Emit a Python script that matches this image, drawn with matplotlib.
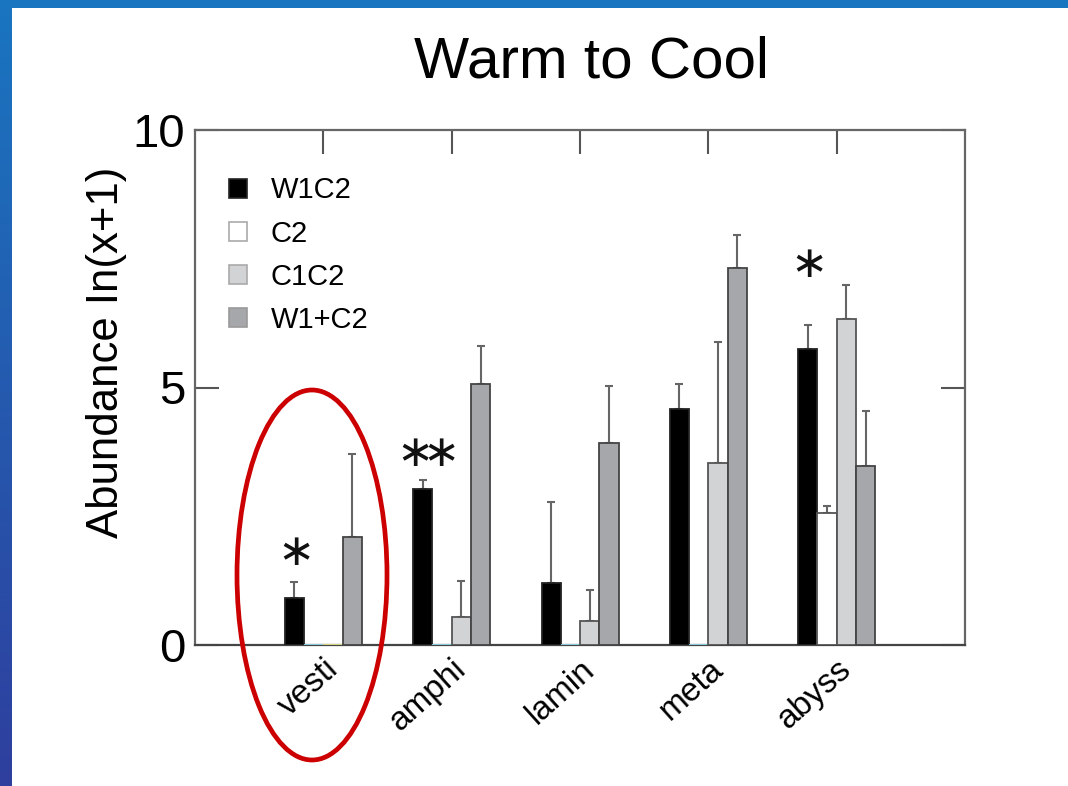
import numpy as np
import matplotlib
matplotlib.use("Agg")
import matplotlib.pyplot as plt
from matplotlib.patches import Patch, Ellipse, Rectangle
from matplotlib.transforms import ScaledTranslation

plt.rcParams['font.family'] = ['Liberation Sans', 'DejaVu Sans']

categories = ["vesti", "amphi", "lamin", "meta", "abyss"]
series = ["W1C2", "C2", "C1C2", "W1+C2"]
w1c2 = [0.92, 3.03, 1.20, 4.58, 5.75]
w1c2_err = [0.31, 0.17, 1.58, 0.48, 0.46]
c2 = [0.0, 0.0, 0.0, 0.0, 2.56]
c2_err = [0.0, 0.0, 0.0, 0.0, 0.14]
c1c2 = [0.0, 0.54, 0.47, 3.54, 6.33]
c1c2_err = [0.0, 0.70, 0.60, 2.34, 0.66]
w1pc2 = [2.09, 5.07, 3.92, 7.33, 3.48]
w1pc2_err = [1.61, 0.74, 1.11, 0.64, 1.06]
stars = ["*", "**", "", "", "*"]
star_y = [1.77, 3.69, 0, 0, 7.36]

values = [w1c2, c2, c1c2, w1pc2]
errors = [w1c2_err, c2_err, c1c2_err, w1pc2_err]
fills = ["#000000", "#ffffff", "#d2d3d5", "#a6a7ab"]
edges = ["#222222", "#555555", "#555555", "#444444"]
zero_edges = [None, "#8fd8e8", "#e3e38a", None]

fig = plt.figure(figsize=(10.68, 7.86), dpi=100)
fig.patch.set_facecolor("white")

# blue frame
grad = fig.add_axes([0, 0, 12/1068, 1])
grad.imshow(np.linspace(0, 1, 256).reshape(-1, 1), aspect="auto",
            cmap=matplotlib.colors.LinearSegmentedColormap.from_list("b", ["#1a75c0", "#2f3f9e"]),
            extent=[0, 1, 0, 1], origin="upper")
grad.axis("off")
fig.add_artist(Rectangle((0, 1 - 8/786), 1, 8/786, transform=fig.transFigure,
                         facecolor="#1a75c0", edgecolor="none"))

ax = fig.add_axes([195/1068, 1 - 645/786, 770/1068, 515/786])
x = np.arange(len(categories))
bw = 0.15
offsets = [-1.5, -0.5, 0.5, 1.5]
for k in range(4):
    xs = x + offsets[k] * bw
    vals = np.array(values[k])
    ecs = [zero_edges[k] if (v == 0 and zero_edges[k]) else edges[k] for v in vals]
    ax.bar(xs, vals, width=bw, color=fills[k], edgecolor=ecs, linewidth=1.3, zorder=3)
    err = np.array(errors[k])
    m = err > 0
    ax.errorbar(xs[m], vals[m], yerr=[np.zeros(m.sum()), err[m]], fmt="none",
                ecolor="#666666", elinewidth=1.5, capsize=3, capthick=1.5, zorder=2)

for i, s in enumerate(stars):
    if s:
        label = "$" + r"\hspace{-0.26}".join([r"{\ast}"] * len(s)) + "$"
        ax.text(x[i] - 1.5 * bw + (0.02 if len(s) > 1 else -0.005), star_y[i], label,
                ha="center", va="center", fontsize=32, math_fontfamily="dejavusans",
                color="#111111")

ax.set_xlim(-1, 5)
ax.set_ylim(0, 10)
ax.set_yticks([0, 5, 10])
ax.set_yticklabels(["0", "5", "10"])
ax.set_xticks(x)
ax.set_xticklabels(categories, rotation=42, ha="right", rotation_mode="anchor", fontsize=24)
for lab in ax.get_xticklabels():
    lab.set_transform(lab.get_transform() + ScaledTranslation(0.16, -0.03, fig.dpi_scale_trans))
ax.tick_params(axis="y", direction="in", left=True, right=True, length=17, width=1.5,
               color="#555555", labelsize=34, pad=7)
ax.tick_params(axis="x", direction="in", bottom=False, top=True, length=17, width=1.5,
               color="#555555", pad=6)
for sp in ax.spines.values():
    sp.set_color("#666666")
    sp.set_linewidth(1.6)
ax.spines["bottom"].set_color("#444444")

ax.set_ylabel("Abundance In(x+1)", fontsize=31.5)
ax.yaxis.set_label_coords(-0.088, 0.569)

fig.text(591/1068, 1 - 78/786, "Warm to Cool", ha="center", va="baseline", fontsize=42)

handles = [Patch(facecolor=fills[k], edgecolor=["#222222", "#aaaaaa", "#aaaaaa", "#999999"][k],
                 linewidth=1.2) for k in range(4)]
ax.legend(handles, series, loc="upper left", bbox_to_anchor=(0.044, 0.91), frameon=False,
          fontsize=21, handlelength=0.63, handleheight=0.63, handletextpad=0.8,
          labelspacing=0.52, borderpad=0, borderaxespad=0)

fig.add_artist(Ellipse((312/1068, 1 - 575/786), 150/1068, 370/786, transform=fig.transFigure,
                       fill=False, edgecolor="#cc0000", linewidth=3.4, clip_on=False))

fig.savefig("out.png", dpi=100)
